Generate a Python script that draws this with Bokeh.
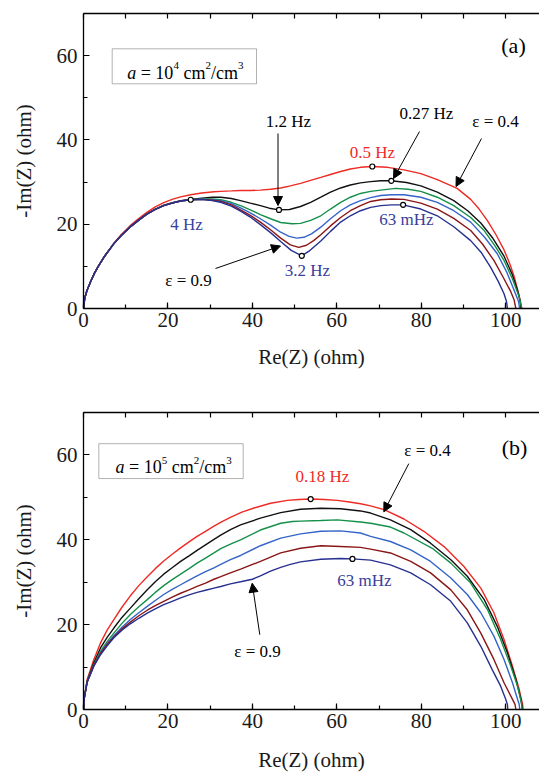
from bokeh.plotting import figure
from bokeh.models import Range1d, LinearAxis, SingleIntervalTicker, FixedTicker, Label, Arrow, NormalHead, BoxAnnotation
from bokeh.layouts import column
from bokeh.embed import file_html
from bokeh.resources import INLINE

FONT = "'Liberation Serif', 'Times New Roman', serif"

# ---------------- data: panel (a), a = 1e4 cm2/cm3 ----------------
A_X_04 = [0, 0.3, 0.8, 1.7, 2.6, 3.5, 5, 7.2, 9, 11, 13, 15, 17, 19, 21, 23, 25.4, 28, 30.9, 32.5, 35, 37.2, 39.5, 41.9, 44.3, 46.7, 49, 51.4, 53.8, 56.2, 58.5, 60.9, 63.2, 65.6, 68.4, 72, 75.9, 79.9, 83.8, 88.5, 91.7, 93.7, 95.7, 97.7, 99.6, 101, 102, 103.2, 103.8]
A_Y_04 = [0, 2.5, 4.2, 6.4, 8.4, 10.0, 12.4, 15.5, 17.6, 19.6, 21.3, 22.8, 24.1, 25.1, 25.9, 26.5, 27.0, 27.4, 27.7, 27.8, 27.9, 28.0, 28.0, 28.1, 28.3, 28.6, 29.1, 29.7, 30.4, 31.1, 31.8, 32.5, 33.1, 33.5, 33.7, 33.5, 32.9, 32.0, 30.6, 28.5, 25.9, 23.6, 20.8, 17.5, 13.9, 10.5, 7.6, 3.0, 0]

A_X_05 = [0, 0.3, 0.8, 1.7, 2.6, 3.5, 5, 7.2, 9, 11, 13, 15, 17, 19, 21, 23, 25.4, 28, 30.5, 32.5, 35, 37.2, 39.5, 41.9, 44, 46.3, 48.8, 51.4, 53.8, 56.2, 58.5, 60.9, 63.2, 65.6, 68, 70.4, 72.9, 76.5, 79.9, 83.8, 87.7, 91, 94.1, 97, 99.6, 101.5, 102.8, 103.4, 103.6]
A_Y_05 = [0, 2.5, 4.2, 6.4, 8.4, 10.0, 12.4, 15.4, 17.4, 19.3, 20.9, 22.4, 23.6, 24.5, 25.1, 25.6, 25.9, 26.2, 26.4, 26.4, 26.1, 25.6, 25.0, 24.4, 23.8, 23.4, 23.5, 24.2, 25.2, 26.4, 27.6, 28.6, 29.3, 29.8, 30.1, 30.3, 30.3, 29.9, 29.1, 27.6, 25.6, 23.2, 20.3, 16.6, 12.4, 8.2, 4.3, 1.8, 0]

A_X_06 = [0, 0.3, 0.8, 1.7, 2.6, 3.5, 5, 7.2, 9, 11, 13, 15, 17, 19, 21, 23, 25.4, 28, 30.5, 32.5, 35, 37.2, 39.5, 41.9, 44.3, 46.7, 49.4, 51.4, 53.8, 56.2, 58.5, 60.9, 63.2, 65.6, 68, 70.4, 73.9, 76.9, 79.9, 83.8, 87.7, 91.7, 94.9, 97.5, 99.6, 101.6, 103.2, 103.8]
A_Y_06 = [0, 2.5, 4.2, 6.4, 8.4, 10.0, 12.4, 15.4, 17.4, 19.3, 20.9, 22.4, 23.5, 24.4, 25.0, 25.5, 25.8, 26.0, 26.0, 25.8, 25.2, 24.4, 23.4, 22.3, 21.3, 20.4, 20.1, 20.2, 20.9, 22.0, 23.6, 25.2, 26.4, 27.3, 27.8, 28.1, 28.5, 28.3, 27.8, 26.4, 24.4, 21.6, 18.5, 14.8, 11.4, 7.0, 2.7, 0]

A_X_07 = [0, 0.3, 0.8, 1.7, 2.6, 3.5, 5, 7.2, 9, 11, 13, 15, 17, 19, 21, 23, 25.4, 28, 30.5, 32.5, 35, 37.2, 39.5, 41.9, 44.3, 46.7, 48.7, 50.5, 52.2, 54, 56.2, 58.5, 60.9, 63.2, 65.6, 68, 70.4, 73, 75.9, 79.9, 83.8, 87.7, 91.7, 95, 98.0, 100.3, 102, 103, 103.3]
A_Y_07 = [0, 2.5, 4.2, 6.4, 8.4, 10.0, 12.4, 15.4, 17.4, 19.3, 20.9, 22.4, 23.5, 24.4, 25.0, 25.5, 25.8, 25.9, 25.8, 25.6, 24.9, 23.9, 22.7, 21.3, 19.8, 18.1, 17.1, 16.7, 16.9, 17.7, 19.3, 21.3, 23.2, 24.6, 25.6, 26.3, 26.8, 27.0, 27.0, 26.4, 25.2, 23.2, 20.5, 16.9, 13.0, 8.5, 4.3, 1.8, 0]

A_X_08 = [0, 0.3, 0.8, 1.7, 2.6, 3.5, 5, 7.2, 9, 11, 13, 15, 17, 19, 21, 23, 25.4, 28, 30.5, 32.5, 35, 37.2, 39.5, 41.9, 44.3, 46.7, 49, 51.0, 52.8, 54.5, 56.2, 58.5, 60.9, 63.2, 65.6, 68, 70.4, 73, 75.9, 79.9, 83.8, 87.7, 91.7, 94.5, 97.2, 99.3, 101.2, 102.0, 102.4]
A_Y_08 = [0, 2.5, 4.2, 6.4, 8.4, 10.0, 12.4, 15.4, 17.4, 19.3, 20.9, 22.4, 23.5, 24.4, 25.0, 25.5, 25.8, 25.9, 25.7, 25.4, 24.6, 23.4, 22.1, 20.5, 18.7, 16.7, 15.1, 14.5, 15.0, 16.1, 17.5, 19.6, 21.6, 23.2, 24.4, 25.4, 25.8, 26.0, 25.9, 25.0, 23.6, 21.4, 18.5, 15.3, 11.4, 7.6, 4.0, 2.0, 0]

A_X_09 = [0, 0.3, 0.8, 1.7, 2.6, 3.5, 5, 7.2, 9, 11, 13, 15, 17, 19, 21, 23, 25.4, 28, 30.5, 32.5, 35, 37.2, 39.5, 41.9, 44.3, 46.7, 49.2, 51.7, 53.4, 56.2, 58.5, 60.9, 63.2, 65.6, 68, 70.4, 73, 75.7, 79.9, 83.8, 87.7, 91.7, 94.2, 96.4, 98.2, 99.6, 100.2, 100.4]
A_Y_09 = [0, 2.5, 4.2, 6.4, 8.4, 10.0, 12.4, 15.4, 17.4, 19.3, 20.9, 22.4, 23.5, 24.4, 25.0, 25.5, 25.8, 25.9, 25.6, 25.2, 24.3, 23.1, 21.7, 19.9, 18.0, 15.9, 13.8, 12.5, 13.6, 16.0, 18.3, 20.5, 22.0, 23.2, 24.0, 24.4, 24.6, 24.6, 23.6, 22.0, 19.4, 16.1, 13.3, 9.8, 6.5, 3.5, 1.6, 0]

A_MARK_X = [25.4, 46.3, 51.7, 68.4, 72.9, 75.7]
A_MARK_Y = [25.8, 23.4, 12.5, 33.7, 30.3, 24.6]

# ---------------- data: panel (b), a = 1e5 cm2/cm3 ----------------
B_X_04 = [0, 0.2, 0.87, 2.45, 4.03, 5.6, 7.19, 9.1, 11.1, 13.1, 15.1, 17, 19, 21, 23, 25, 26.9, 28.9, 30.9, 32.8, 34.8, 37.5, 40.4, 44.3, 48.3, 51, 53.8, 57, 60.1, 63, 65.6, 68, 71.2, 75.9, 80.6, 85.4, 90.1, 94.1, 97.2, 99.6, 101.6, 103.2, 104.0, 104.1]
B_Y_04 = [0, 2.8, 7.1, 11.8, 15.7, 18.7, 21.2, 24.1, 26.8, 29.2, 31.3, 33.2, 35.0, 36.6, 38.1, 39.5, 40.8, 42.0, 43.2, 44.3, 45.3, 46.5, 47.5, 48.6, 49.3, 49.5, 49.6, 49.5, 49.3, 48.9, 48.5, 48.0, 47.1, 44.9, 42.0, 38.4, 33.7, 28.6, 22.8, 16.5, 10.2, 4.7, 1.2, 0]

B_X_05 = [0, 0.2, 0.87, 2.45, 4.03, 5.6, 7.19, 9.1, 11.1, 13.1, 15.1, 17, 19, 21, 23, 25, 26.9, 28.9, 30.9, 32.5, 34.8, 37.2, 41.9, 46.7, 51.4, 56.2, 60.9, 65.6, 68, 72.7, 77.5, 82.2, 87.0, 90.9, 94.9, 98.0, 100.4, 102.4, 103.6, 104.0]
B_Y_05 = [0, 2.8, 6.7, 11.0, 14.5, 17.0, 19.2, 21.7, 23.9, 26.1, 28.2, 30.1, 31.9, 33.4, 34.9, 36.2, 37.5, 38.8, 40.1, 41.1, 42.4, 43.5, 45.1, 46.4, 47.2, 47.45, 47.3, 46.8, 46.3, 44.7, 42.4, 39.2, 35.3, 31.4, 25.9, 19.6, 13.4, 7.1, 2.4, 0]

B_X_06 = [0, 0.2, 0.87, 2.45, 4.03, 5.6, 7.19, 9.1, 11.1, 13.1, 15.1, 17, 19, 21, 23, 25, 26.9, 28.9, 30.9, 32.5, 34.8, 37.2, 41.9, 46.7, 49.5, 51.4, 56.2, 60.1, 65.6, 68, 72.7, 75.9, 82.6, 87.0, 91.7, 95.7, 98.8, 101.2, 102.8, 103.7, 103.9]
B_Y_06 = [0, 2.8, 6.7, 10.6, 13.7, 16.0, 18.0, 20.3, 22.4, 24.2, 25.9, 27.6, 29.2, 30.6, 31.9, 33.2, 34.5, 35.7, 36.9, 37.9, 39.0, 40.0, 42.3, 43.9, 44.3, 44.4, 44.55, 44.7, 44.2, 43.9, 43.0, 41.6, 38.0, 34.5, 29.8, 23.5, 16.5, 10.2, 5.5, 1.6, 0]

B_X_07 = [0, 0.2, 0.87, 2.45, 4.03, 5.6, 7.19, 9.1, 11.1, 13.1, 15.1, 17, 19, 21, 23, 25, 26.9, 28.9, 30.9, 32.5, 34.8, 37.2, 41.9, 46.7, 51.4, 56.2, 60.9, 65.6, 68, 72.7, 77.5, 82.2, 87.0, 90.9, 94.1, 97.2, 99.6, 101.6, 102.8, 103.2, 103.3]
B_Y_07 = [0, 2.8, 6.5, 10.4, 13.3, 15.5, 17.4, 19.4, 21.2, 22.8, 24.3, 25.7, 27.1, 28.3, 29.4, 30.5, 31.5, 32.5, 33.4, 34.2, 35.3, 36.3, 38.6, 40.4, 41.4, 42.0, 42.1, 41.6, 40.8, 39.6, 37.6, 34.9, 31.0, 27.1, 22.8, 17.3, 11.8, 6.3, 2.4, 1.2, 0]

B_X_08 = [0, 0.2, 0.87, 2.45, 4.03, 5.6, 7.19, 9.1, 11.1, 13.1, 15.1, 17, 19, 21, 23, 25, 26.9, 28.9, 30.9, 32.5, 34.8, 37.2, 41.9, 46.7, 51.4, 56.2, 60.9, 65.6, 68, 72.7, 77.5, 82.2, 87.0, 90.9, 94.1, 97.2, 99.6, 101.6, 102.2, 102.4]
B_Y_08 = [0, 2.8, 6.5, 10.4, 13.2, 15.3, 17.1, 19.0, 20.6, 22.1, 23.4, 24.5, 25.5, 26.5, 27.4, 28.2, 29.0, 29.8, 30.7, 31.3, 32.2, 33.1, 34.9, 36.9, 38.0, 38.6, 38.4, 38.2, 37.8, 36.9, 34.9, 32.2, 28.2, 23.5, 18.0, 11.8, 6.3, 2.4, 1.2, 0]

B_X_09 = [0, 0.2, 0.87, 2.45, 4.03, 5.6, 7.19, 9.1, 11.1, 13.1, 15.1, 17, 19, 21, 23, 25, 26.9, 28.9, 30.9, 32.5, 34.8, 37.2, 40, 41.9, 44.3, 46.7, 49, 51.4, 56.2, 60.9, 63.7, 68, 72.7, 77.5, 82.2, 87.0, 90.9, 94.1, 96.8, 98.8, 100.0, 100.4, 100.5]
B_Y_09 = [0, 2.8, 6.4, 10.2, 12.9, 15.0, 16.9, 18.7, 20.2, 21.5, 22.7, 23.7, 24.7, 25.5, 26.3, 27.0, 27.6, 28.1, 28.6, 29.0, 29.6, 30.1, 30.7, 31.5, 32.6, 33.5, 34.2, 34.8, 35.4, 35.6, 35.5, 35.2, 34.1, 32.2, 29.4, 25.5, 20.4, 14.9, 9.4, 5.5, 2.4, 1.2, 0]

B_MARK_X = [53.8, 63.7]
B_MARK_Y = [49.6, 35.5]

TOP_TICKS = [0, 10, 20, 30, 40, 50, 60, 70, 80, 90, 100]

# ---------------- styling ----------------
COLORS = ["#ee2a24", "#111111", "#15904a", "#3464c8", "#8a1616", "#27308f"]
NAVY_TXT = "#38409c"
RED_TXT = "#ee2a24"

XMAX, YMAX = 108, 70
FRAME_L, FRAME_W = 83, 456
SX = FRAME_W / XMAX


def xd(px):
    return (px - FRAME_L) / SX


def make_panel(height, btop, bbot, xlab_standoff):
    p = figure(width=539, height=height, x_range=Range1d(0, XMAX), y_range=Range1d(0, YMAX),
               output_backend="svg", toolbar_location=None,
               min_border_left=FRAME_L, min_border_right=0, min_border_top=btop, min_border_bottom=bbot)
    p.outline_line_color = None
    p.xgrid.visible = False
    p.ygrid.visible = False
    top = LinearAxis(ticker=FixedTicker(ticks=[], minor_ticks=TOP_TICKS))
    p.add_layout(top, "above")
    bottom = p.below[0]
    left = p.left[0]
    for ax in [bottom, left, top]:
        ax.major_tick_in = 6
        ax.major_tick_out = 0
        ax.minor_tick_in = 4
        ax.minor_tick_out = 0
        ax.axis_line_width = 1.3
        ax.major_tick_line_width = 1.2
        ax.minor_tick_line_width = 1.2
        ax.axis_line_color = "black"
        ax.major_tick_line_color = "black"
        ax.minor_tick_line_color = "black"
        ax.major_label_text_font = FONT
        ax.major_label_text_font_size = "21px"
        ax.major_label_text_color = "#1a1a1a"
        ax.axis_label_text_font = FONT
        ax.axis_label_text_font_size = "21px"
        ax.axis_label_text_font_style = "normal"
        ax.axis_label_text_color = "#1a1a1a"
    for ax in [bottom, left]:
        ax.ticker = SingleIntervalTicker(interval=20, num_minor_ticks=2)
    top.minor_tick_in = 5
    top.major_label_standoff = 0
    bottom.major_label_standoff = 4
    left.major_label_standoff = 6
    bottom.axis_label = "Re(Z) (ohm)"
    left.axis_label = "-Im(Z) (ohm)"
    bottom.axis_label_standoff = xlab_standoff
    left.axis_label_standoff = 18
    return p


def lab(p, x, y, text, size, color="black", italic=False, align="center", baseline="middle"):
    p.add_layout(Label(x=x, y=y, text=text, text_font=FONT, text_font_size=f"{size}px",
                       text_color=color, text_font_style="italic" if italic else "normal",
                       text_align=align, text_baseline=baseline))


def arr(p, x0, y0, x1, y1):
    p.add_layout(Arrow(end=NormalHead(size=9, fill_color="black", line_color="black", line_width=1),
                       x_start=x0, y_start=y0, x_end=x1, y_end=y1, line_width=1, line_color="black"))


def box_text(p, yd, left_px, base_py, box, sup):
    l, t, r, b = box
    p.add_layout(BoxAnnotation(left=xd(l), right=xd(r), top=yd(t), bottom=yd(b),
                               fill_color="white", fill_alpha=1.0, line_color="black", line_width=1))
    y0 = yd(base_py)
    ys = yd(base_py - 7)
    x = left_px
    lab(p, xd(x), y0, "a", 18, italic=True, align="left", baseline="alphabetic")
    lab(p, xd(x + 13.5), y0, "= 10", 18, align="left", baseline="alphabetic")
    lab(p, xd(x + 46.2), ys, sup, 11, align="left", baseline="alphabetic")
    lab(p, xd(x + 56.2), y0, "cm", 18, align="left", baseline="alphabetic")
    lab(p, xd(x + 78.2), ys, "2", 11, align="left", baseline="alphabetic")
    lab(p, xd(x + 83.7), y0, "/cm", 18, align="left", baseline="alphabetic")
    lab(p, xd(x + 110.7), ys, "3", 11, align="left", baseline="alphabetic")


# ---------------- panel (a) ----------------
p1 = make_panel(372, 13, 64, 15)
A_SERIES = [(A_X_04, A_Y_04), (A_X_05, A_Y_05), (A_X_06, A_Y_06), (A_X_07, A_Y_07), (A_X_08, A_Y_08), (A_X_09, A_Y_09)]
for (xs, ys), c in zip(A_SERIES, COLORS):
    p1.line(xs, ys, line_color=c, line_width=1.4)
p1.scatter(A_MARK_X, A_MARK_Y, marker="circle", size=5, fill_color="white", line_color="black", line_width=1.2)


def ya(py):
    return (308 - py) * YMAX / 295.0


lab(p1, xd(288), ya(121), "1.2 Hz", 17)
arr(p1, xd(277.5), ya(133), xd(277.5), ya(205))
lab(p1, xd(426), ya(113), "0.27 Hz", 17)
arr(p1, xd(419), ya(131), xd(393), ya(178))
lab(p1, xd(495), ya(121), "ε = 0.4", 17)
arr(p1, xd(481), ya(138), xd(455.5), ya(186))
lab(p1, xd(372), ya(152), "0.5 Hz", 17, color=RED_TXT)
lab(p1, xd(406), ya(219), "63 mHz", 17, color=NAVY_TXT)
lab(p1, xd(307), ya(270), "3.2 Hz", 17, color=NAVY_TXT)
lab(p1, xd(186), ya(224), "4 Hz", 17, color=NAVY_TXT)
lab(p1, xd(188), ya(280), "ε = 0.9", 17)
arr(p1, xd(215), ya(268), xd(280), ya(245.5))
lab(p1, xd(513), ya(45), "(a)", 22)
box_text(p1, ya, 126.7, 72, (111.7, 48.3, 256, 83.3), "4")

# ---------------- panel (b) ----------------
p2 = make_panel(402, 40, 64, 17)
B_SERIES = [(B_X_04, B_Y_04), (B_X_05, B_Y_05), (B_X_06, B_Y_06), (B_X_07, B_Y_07), (B_X_08, B_Y_08), (B_X_09, B_Y_09)]
for (xs, ys), c in zip(B_SERIES, COLORS):
    p2.line(xs, ys, line_color=c, line_width=1.4)
p2.scatter(B_MARK_X, B_MARK_Y, marker="circle", size=5, fill_color="white", line_color="black", line_width=1.2)


def yb(py):
    return (710 - py) * YMAX / 298.0


lab(p2, xd(427), yb(450), "ε = 0.4", 17)
arr(p2, xd(408.3), yb(463.3), xd(383.3), yb(511.7))
lab(p2, xd(322), yb(476), "0.18 Hz", 17, color=RED_TXT)
lab(p2, xd(364), yb(581), "63 mHz", 17, color=NAVY_TXT)
lab(p2, xd(257), yb(652), "ε = 0.9", 17)
arr(p2, xd(259.3), yb(635), xd(251.7), yb(583.3))
lab(p2, xd(514), yb(447), "(b)", 22)
box_text(p2, yb, 115, 467, (98.3, 443.3, 242.7, 478.3), "5")

layout = column(p1, p2)
open("out.html", "w").write(file_html(layout, INLINE))
